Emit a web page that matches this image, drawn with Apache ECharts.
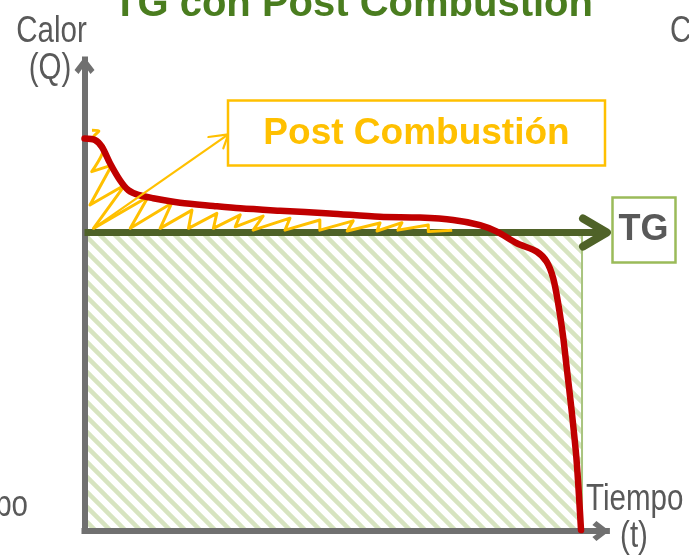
<!DOCTYPE html>
<html>
<head>
<meta charset="utf-8">
<script src="https://cdn.jsdelivr.net/npm/echarts@6/dist/echarts.min.js"></script>
<style>
html, body { margin: 0; padding: 0; background: #fff; }
#plot { width: 689px; height: 557px; }
</style>
</head>
<body>
<div id="plot"></div>
<script>
// time axis 0..100 = hatched block, heat axis: TG level = 100
const tgLevel = 100;
const blockEnd = 100;

// red heat curve (post combustion)
const curveT = [0, 2.1, 3.5, 5.1, 7.1, 8.8, 10.8, 13.8, 19.2, 25.9, 31.3, 39.3, 49.3, 59.4, 67.4, 74.1, 79.5, 82.9, 86.9, 90.9, 92.9, 94.2, 95.2, 96.2, 96.9, 97.9, 98.9, 99.8];
const curveQ = [131.5, 131.0, 128.7, 123.3, 117.6, 114.2, 112.6, 111.5, 110.0, 108.9, 108.1, 107.3, 106.4, 105.3, 105.0, 104.2, 102.5, 100.3, 96.4, 93.6, 90.2, 84.7, 76.3, 65.1, 55.0, 40.5, 23.8, 0.3];

// yellow sketch between TG line and curve
const zigT = [1.5, 2.9, 1.7, 3.9, 1.45, 5.5, 1.1, 8.1, 1.8, 12.8, 9.2, 17.5, 15.2, 21.6, 20.9, 26.6, 25.9, 31.3, 30.3, 35.9, 33.9, 41.3, 40.3, 47.3, 47.3, 54.0, 52.8, 59.4, 58.8, 63.8, 63.0, 69.1, 69.1, 73.9];
const zigQ = [134.3, 134.0, 131.7, 128.6, 120.4, 122.6, 109.2, 115.9, 101.4, 112.0, 101.4, 109.8, 101.4, 107.5, 101.4, 106.4, 101.4, 105.9, 101.9, 105.5, 100.8, 104.8, 100.8, 104.2, 100.8, 103.9, 100.5, 103.2, 100.5, 103.3, 100.8, 102.5, 100.3, 100.8];

// yellow pointer to the "Post Combustión" box
const pointerT = [1.8, 28.9];
const pointerQ = [101.4, 132.9];
const pointerHeadT = [24.9, 28.9, 27.9];
const pointerHeadQ = [132.0, 132.9, 128.2];

// TG line and its arrow head
const tgT = [0, 105.0];
const tgHeadT = [100.2, 105.0, 100.2];
const tgHeadQ = [104.7, 100, 95.3];

function pairs(xs, ys) { return xs.map((x, i) => [x, ys[i]]); }

function hatch() {
    const c = document.createElement('canvas');
    c.width = 15; c.height = 15;
    const ctx = c.getContext('2d');
    ctx.fillStyle = '#ffffff';
    ctx.fillRect(0, 0, 15, 15);
    ctx.strokeStyle = '#d7e4c0';
    ctx.lineWidth = 4.5;
    for (const k of [-15, 0, 15]) {
        ctx.beginPath();
        ctx.moveTo(k - 2, -2);
        ctx.lineTo(k + 17, 17);
        ctx.stroke();
    }
    return c;
}

const chevron = 'path://M10,0 L20,13 L16,17 L10,8.5 L4,17 L0,13 Z';
const narrow = '36px "Liberation Sans", Arial, sans-serif';

function label(text, x, baseline, align) {
    return {
        type: 'text', x: x, y: baseline - 12.5, scaleX: 0.82, z: 100,
        style: { text: text, font: narrow, fill: '#595959', align: align, verticalAlign: 'middle' }
    };
}

const axisStyle = {
    show: true, symbol: ['none', chevron], symbolSize: [20, 18], symbolOffset: [0, -6],
    lineStyle: { color: '#707070', width: 6, cap: 'square' }
};

const chart = echarts.init(document.getElementById('plot'));
chart.setOption({
    animation: false,
    backgroundColor: '#ffffff',
    grid: { left: 84.5, right: 82.1, top: 59.4, bottom: 26 },
    xAxis: {
        type: 'value', min: 0, max: 105, z: 2,
        axisLine: axisStyle,
        axisTick: { show: false }, axisLabel: { show: false }, splitLine: { show: false }
    },
    yAxis: {
        type: 'value', min: 0, max: 158, z: 2,
        axisLine: axisStyle,
        axisTick: { show: false }, axisLabel: { show: false }, splitLine: { show: false }
    },
    series: [
        {
            type: 'line', data: [], z: 1, silent: true,
            markArea: {
                silent: true,
                itemStyle: { color: { image: hatch(), repeat: 'repeat' }, borderColor: '#a9c47f', borderWidth: 2 },
                data: [[{ coord: [0, 0] }, { coord: [blockEnd, tgLevel] }]]
            }
        },
        {
            type: 'line', data: pairs(tgT, [tgLevel, tgLevel]), z: 3, clip: false, symbol: 'none',
            lineStyle: { color: '#4f6228', width: 7 }
        },
        {
            type: 'line', data: pairs(tgHeadT, tgHeadQ), z: 3, clip: false, symbol: 'none',
            lineStyle: { color: '#4f6228', width: 8, cap: 'round', join: 'round' }
        },
        {
            type: 'line', data: pairs(zigT, zigQ), z: 4, symbol: 'none', smooth: 0.35,
            lineStyle: { color: '#ffc000', width: 3, join: 'round' }
        },
        {
            type: 'line', data: pairs(curveT, curveQ), z: 5, symbol: 'none', smooth: 0.3,
            lineStyle: { color: '#c00000', width: 6.5, cap: 'round', join: 'round' }
        },
        {
            type: 'line', data: pairs(pointerT, pointerQ), z: 6, symbol: 'none',
            lineStyle: { color: '#ffc000', width: 2.2 }
        },
        {
            type: 'line', data: pairs(pointerHeadT, pointerHeadQ), z: 6, symbol: 'none',
            lineStyle: { color: '#ffc000', width: 2.2, cap: 'round' }
        }
    ],
    graphic: [
        {
            type: 'text', x: 113, y: 5, z: 100,
            style: { text: 'TG con Post Combustión', font: 'bold 40px "Liberation Sans", Arial, sans-serif', fill: '#4a7d1f', align: 'left', verticalAlign: 'middle' }
        },
        {
            type: 'rect', z: 100, shape: { x: 228, y: 100.5, width: 377, height: 65 },
            style: { fill: '#ffffff', stroke: '#ffc000', lineWidth: 2.5 }
        },
        {
            type: 'text', x: 416.5, y: 133.9, z: 101,
            style: { text: 'Post Combustión', font: 'bold 37px "Liberation Sans", Arial, sans-serif', fill: '#ffc000', align: 'center', verticalAlign: 'middle' }
        },
        {
            type: 'rect', z: 100, shape: { x: 612.5, y: 197.5, width: 63, height: 65 },
            style: { fill: '#ffffff', stroke: '#9bbb59', lineWidth: 2.5 }
        },
        {
            type: 'text', x: 643.5, y: 230.5, z: 101,
            style: { text: 'TG', font: 'bold 36px "Liberation Sans", Arial, sans-serif', fill: '#595959', align: 'center', verticalAlign: 'middle' }
        },
        label('Calor', 51.5, 45, 'center'),
        label('(Q)', 50, 82, 'center'),
        label('C', 670, 45, 'left'),
        label('Tiempo', 586, 512.7, 'left'),
        label('(t)', 634, 550, 'center'),
        label('po', 28, 519, 'right')
    ]
});
</script>
</body>
</html>
